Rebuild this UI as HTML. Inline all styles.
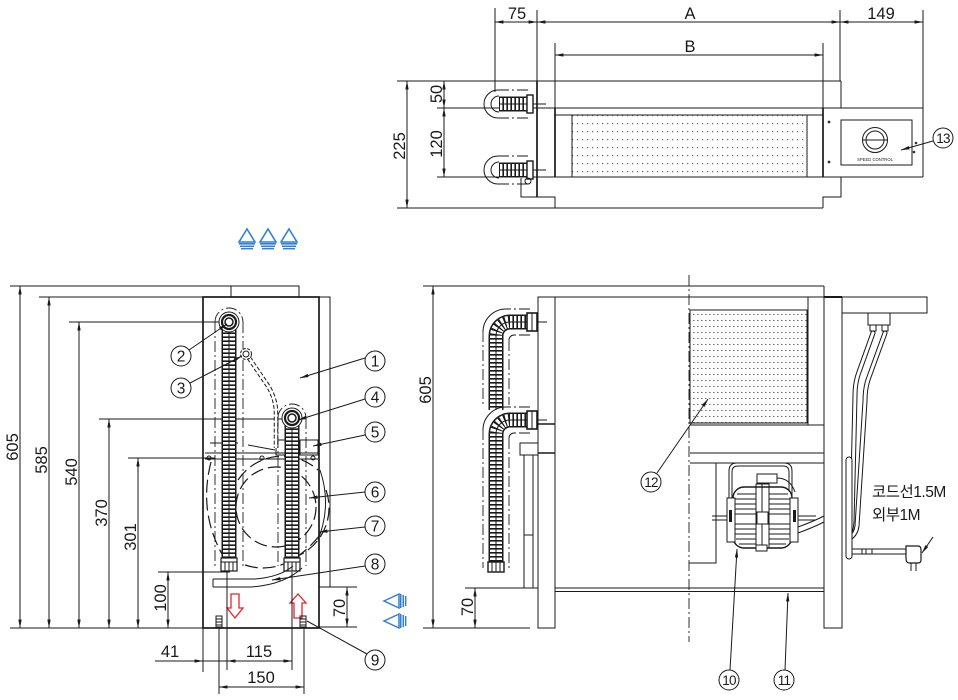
<!DOCTYPE html>
<html><head><meta charset="utf-8"><style>
html,body{margin:0;padding:0;background:#fff;}
svg{display:block;}
.l{fill:none;stroke:#1a1a1a;stroke-width:1;}
.t{fill:none;stroke:#1a1a1a;stroke-width:1.7;}
.dd{fill:none;stroke:#1a1a1a;stroke-width:0.9;stroke-dasharray:11 3 2 3;}
.ds{fill:none;stroke:#1a1a1a;stroke-width:1.2;stroke-dasharray:13 5;}
.r1{fill:none;stroke:#1a1a1a;stroke-width:15;}
.r2{fill:none;stroke:#fff;stroke-width:12;}
.r3{fill:none;stroke:#1a1a1a;stroke-width:12;stroke-dasharray:1.6 2.4;}
.r4{fill:none;stroke:#1a1a1a;stroke-width:1;}
.tw{fill:none;stroke:#1a1a1a;stroke-width:5;stroke-linecap:round;}
.tw2{fill:none;stroke:#fff;stroke-width:3;stroke-linecap:round;}
text{font-family:"Liberation Sans","Noto Sans CJK KR",sans-serif;fill:#1a1a1a;}
.n{font-size:16.5px;}
.c{font-size:15.5px;text-anchor:middle;}
.c2{font-size:13.5px;text-anchor:middle;letter-spacing:-0.8px;}
</style></head><body>
<svg width="958" height="700" viewBox="0 0 958 700" xmlns="http://www.w3.org/2000/svg">
<defs>
<marker id="ar" viewBox="0 0 10 4" refX="10" refY="2" markerWidth="9" markerHeight="3.4" orient="auto-start-reverse" markerUnits="userSpaceOnUse"><path d="M0,0L10,2L0,4z" fill="#1a1a1a"/></marker>
<pattern id="dt" width="5" height="8" patternUnits="userSpaceOnUse"><rect x="2" y="3" width="1.2" height="1.2" fill="#666"/></pattern>
<pattern id="dr" width="4" height="6" patternUnits="userSpaceOnUse"><rect x="1" y="2" width="1.6" height="1" fill="#777"/></pattern>
<path id="tc1" d="M528,104 H499"/>
<path id="tc2" d="M528,170 H499"/>
<path id="lc1" d="M229,562 V322"/>
<path id="lc2" d="M292,562 V418"/>
<path id="rc1" d="M530,322 H510 A14,14 0 0 0 496,336 V410"/>
<path id="rc2" d="M530,420 H510 A14,14 0 0 0 496,434 V564"/>
</defs>

<!-- ================= TOP VIEW ================= -->
<line class="l" x1="495" y1="8" x2="495" y2="92"/>
<line class="l" x1="537" y1="10" x2="537" y2="81"/>
<line class="l" x1="840" y1="10" x2="840" y2="81"/>
<line class="l" x1="923" y1="10" x2="923" y2="108"/>
<line class="l" x1="555" y1="43" x2="555" y2="108"/>
<line class="l" x1="823" y1="43" x2="823" y2="108"/>
<line class="l" x1="495" y1="22" x2="537" y2="22" marker-start="url(#ar)" marker-end="url(#ar)"/>
<line class="l" x1="537" y1="22" x2="840" y2="22" marker-start="url(#ar)" marker-end="url(#ar)"/>
<line class="l" x1="840" y1="22" x2="923" y2="22" marker-start="url(#ar)" marker-end="url(#ar)"/>
<line class="l" x1="555" y1="55" x2="823" y2="55" marker-start="url(#ar)" marker-end="url(#ar)"/>
<text class="n" x="517" y="19" text-anchor="middle">75</text>
<text class="n" x="690" y="19" text-anchor="middle">A</text>
<text class="n" x="881" y="19" text-anchor="middle">149</text>
<text class="n" x="690" y="52" text-anchor="middle">B</text>
<line class="l" x1="397" y1="81" x2="841" y2="81"/>
<line class="l" x1="841" y1="81" x2="841" y2="108"/>
<line class="l" x1="437" y1="108" x2="923" y2="108"/>
<line class="l" x1="555" y1="115" x2="823" y2="115"/>
<line class="t" x1="537" y1="81" x2="537" y2="197"/>
<line class="t" x1="555" y1="108" x2="555" y2="177"/>
<line class="t" x1="823" y1="108" x2="823" y2="177"/>
<line class="l" x1="923" y1="108" x2="923" y2="177"/>
<line class="l" x1="437" y1="177" x2="923" y2="177"/>
<path class="l" d="M537,197 H555 V208 M823,208 V197 H841 V177"/>
<line class="l" x1="397" y1="208" x2="823" y2="208"/>
<rect x="572" y="115" width="235" height="62" fill="url(#dt)" stroke="#1a1a1a" stroke-width="1"/>
<rect class="l" x="841" y="120" width="71" height="45"/>
<circle class="l" cx="875" cy="140" r="12.5" stroke-width="1.5"/>
<circle class="l" cx="875" cy="140" r="9"/>
<line class="l" x1="863" y1="140" x2="887" y2="140" stroke-width="1.6"/>
<text x="875" y="161" font-size="4.2" text-anchor="middle">SPEED CONTROL</text>
<circle cx="829" cy="122" r="1.4" fill="#333"/>
<circle cx="829" cy="162" r="1.4" fill="#333"/>
<circle cx="916" cy="143" r="1.3" fill="#333"/>
<circle cx="914" cy="152" r="1.3" fill="#333"/>
<circle class="l" cx="943" cy="138" r="10"/>
<text class="c2" x="943" y="143">13</text>
<line class="l" x1="933" y1="141" x2="901" y2="150" marker-end="url(#ar)"/>
<line class="l" x1="407" y1="81" x2="407" y2="208" marker-start="url(#ar)" marker-end="url(#ar)"/>
<line class="l" x1="444" y1="81" x2="444" y2="108" marker-start="url(#ar)" marker-end="url(#ar)"/>
<line class="l" x1="444" y1="108" x2="444" y2="177" marker-start="url(#ar)" marker-end="url(#ar)"/>
<text class="n" transform="translate(405,146) rotate(-90)" text-anchor="middle">225</text>
<text class="n" transform="translate(442,94) rotate(-90)" text-anchor="middle">50</text>
<text class="n" transform="translate(442,144) rotate(-90)" text-anchor="middle">120</text>
<path class="dd" d="M528,90 H497 M528,118 H497"/>
<path class="l" d="M498,90 A14,14 0 0 0 498,118"/>
<path class="l" d="M499,96 A8,8 0 0 0 499,112"/>
<use href="#tc1" class="r1"/><use href="#tc1" class="r2"/><use href="#tc1" class="r3"/><use href="#tc1" class="r4"/>
<rect x="527" y="95" width="6" height="18" fill="#fff" stroke="#1a1a1a" stroke-width="1.4"/>
<line class="l" x1="533" y1="104" x2="546" y2="104"/>
<path class="dd" d="M528,156 H497 M528,184 H497"/>
<path class="l" d="M498,156 A14,14 0 0 0 498,184"/>
<path class="l" d="M499,162 A8,8 0 0 0 499,178"/>
<use href="#tc2" class="r1"/><use href="#tc2" class="r2"/><use href="#tc2" class="r3"/><use href="#tc2" class="r4"/>
<rect x="527" y="161" width="6" height="18" fill="#fff" stroke="#1a1a1a" stroke-width="1.4"/>
<line class="l" x1="533" y1="170" x2="546" y2="170"/>
<path class="l" d="M521,178 V197 H537"/>
<circle class="l" cx="528" cy="181" r="3"/>

<g stroke="#2f7fd6" fill="#fff" stroke-width="1.6">
<path d="M247,229 L239,242 L255,242 Z"/><path d="M268,229 L260,242 L276,242 Z"/><path d="M289,229 L281,242 L297,242 Z"/>
</g>
<g fill="#2f7fd6">
<rect x="239" y="243" width="16" height="1.6"/><rect x="240" y="245.5" width="14" height="1.6"/><rect x="241" y="248" width="12" height="1.4"/>
<rect x="260" y="243" width="16" height="1.6"/><rect x="261" y="245.5" width="14" height="1.6"/><rect x="262" y="248" width="12" height="1.4"/>
<rect x="281" y="243" width="16" height="1.6"/><rect x="282" y="245.5" width="14" height="1.6"/><rect x="283" y="248" width="12" height="1.4"/>
</g>

<!-- ================= LEFT SIDE VIEW ================= -->
<line class="l" x1="10" y1="286" x2="231" y2="286"/>
<path class="l" d="M231,297 V286 H299 V297"/>
<line class="l" x1="39" y1="297" x2="203" y2="297"/>
<line class="l" x1="69" y1="322" x2="222" y2="322"/>
<line class="l" x1="99" y1="419" x2="285" y2="419"/>
<line class="l" x1="128" y1="458" x2="215" y2="458"/>
<line class="l" x1="158" y1="572" x2="230" y2="572"/>
<line class="l" x1="10" y1="628" x2="203" y2="628"/>
<line class="l" x1="20" y1="286" x2="20" y2="628" marker-start="url(#ar)" marker-end="url(#ar)"/>
<line class="l" x1="49" y1="297" x2="49" y2="628" marker-start="url(#ar)" marker-end="url(#ar)"/>
<line class="l" x1="79" y1="322" x2="79" y2="628" marker-start="url(#ar)" marker-end="url(#ar)"/>
<line class="l" x1="109" y1="419" x2="109" y2="628" marker-start="url(#ar)" marker-end="url(#ar)"/>
<line class="l" x1="138" y1="458" x2="138" y2="628" marker-start="url(#ar)" marker-end="url(#ar)"/>
<line class="l" x1="168" y1="572" x2="168" y2="628" marker-start="url(#ar)" marker-end="url(#ar)"/>
<text class="n" transform="translate(18,447) rotate(-90)" text-anchor="middle">605</text>
<text class="n" transform="translate(47,460) rotate(-90)" text-anchor="middle">585</text>
<text class="n" transform="translate(77,472) rotate(-90)" text-anchor="middle">540</text>
<text class="n" transform="translate(107,513) rotate(-90)" text-anchor="middle">370</text>
<text class="n" transform="translate(136,537) rotate(-90)" text-anchor="middle">301</text>
<text class="n" transform="translate(166,598) rotate(-90)" text-anchor="middle">100</text>
<rect class="t" x="203" y="297" width="116" height="331" stroke-width="1.4"/>
<path class="l" d="M319,297 H330 V587 H319"/>
<circle class="ds" cx="276" cy="507" r="40"/>
<path class="ds" d="M238,480 A53,53 0 0 1 318,470"/>
<path class="ds" d="M326,490 A53,53 0 0 1 300,555"/>
<path class="ds" d="M211,462 Q196,520 232,570"/>
<path class="ds" d="M245,565 Q285,578 320,535"/>
<path class="l" d="M320,470 Q332,505 318,540"/>
<line class="l" x1="205" y1="453" x2="318" y2="453"/>
<line class="l" x1="205" y1="459" x2="318" y2="459"/>
<line class="l" x1="210" y1="443" x2="238" y2="443"/>
<line class="l" x1="248" y1="445" x2="275" y2="450"/>
<rect class="l" x="276" y="440" width="11" height="15"/>
<rect class="l" x="300" y="440" width="18" height="15"/>
<circle class="l" cx="209" cy="458" r="2"/><circle class="l" cx="262" cy="458" r="2"/><circle class="l" cx="313" cy="458" r="2"/>
<path class="dd" d="M215,322 V566 M243,322 V566"/>
<path class="dd" d="M215,322 A14,14 0 0 1 243,322"/>
<use href="#lc1" class="r1"/><use href="#lc1" class="r2"/><use href="#lc1" class="r3"/><use href="#lc1" class="r4"/>
<circle cx="229" cy="322" r="10" fill="#fff" stroke="#1a1a1a" stroke-width="1"/>
<circle cx="229" cy="322" r="7" fill="none" stroke="#1a1a1a" stroke-width="2.2"/>
<circle cx="229" cy="322" r="4" fill="none" stroke="#1a1a1a" stroke-width="1.5"/>
<rect x="221" y="558" width="16" height="13" fill="#fff" stroke="#1a1a1a" stroke-width="1.2"/>
<path class="l" d="M221,562 H237 M225,562 V571 M229,562 V571 M233,562 V571"/>
<path d="M249,358 L268,386 Q276,399 276,413 L276,448" fill="none" stroke="#1a1a1a" stroke-width="4.5" stroke-dasharray="4 2"/>
<path d="M249,358 L268,386 Q276,399 276,413 L276,448" fill="none" stroke="#fff" stroke-width="2.5"/>
<circle cx="246" cy="354" r="5.5" fill="#fff" stroke="#1a1a1a" stroke-width="1" stroke-dasharray="3 1.5"/>
<circle cx="246" cy="354" r="3" fill="none" stroke="#1a1a1a" stroke-width="1"/>
<path class="dd" d="M278,418 V566 M306,418 V566"/>
<path class="dd" d="M278,418 A14,14 0 0 1 306,418"/>
<use href="#lc2" class="r1"/><use href="#lc2" class="r2"/><use href="#lc2" class="r3"/><use href="#lc2" class="r4"/>
<circle cx="292" cy="418" r="10" fill="#fff" stroke="#1a1a1a" stroke-width="1"/>
<circle cx="292" cy="418" r="7" fill="none" stroke="#1a1a1a" stroke-width="2.2"/>
<circle cx="292" cy="418" r="4" fill="none" stroke="#1a1a1a" stroke-width="1.5"/>
<rect x="284" y="558" width="16" height="13" fill="#fff" stroke="#1a1a1a" stroke-width="1.2"/>
<path class="l" d="M284,562 H300 M288,562 V571 M292,562 V571 M296,562 V571"/>
<path class="l" d="M213,579 H255 Q280,577 293,566 M213,587 H250 Q284,585 302,568 M213,579 V587"/>
<path d="M231,594 H239 V608 H243 L235,618 L227,608 H231 Z" fill="#fff" stroke="#e2262a" stroke-width="1.3"/>
<path d="M294,618 H302 V603 H306 L298,594 L290,603 H294 Z" fill="#fff" stroke="#e2262a" stroke-width="1.3"/>
<rect class="l" x="216" y="616" width="6" height="11"/><path class="l" d="M216,619 H222 M216,622 H222 M216,625 H222"/>
<rect class="l" x="300" y="616" width="6" height="11"/><path class="l" d="M300,619 H306 M300,622 H306 M300,625 H306"/>
<line class="l" x1="203" y1="628" x2="203" y2="672"/>
<line class="l" x1="227" y1="572" x2="227" y2="670"/>
<line class="l" x1="292" y1="572" x2="292" y2="670"/>
<line class="l" x1="219" y1="628" x2="219" y2="694"/>
<line class="l" x1="304" y1="628" x2="304" y2="694"/>
<line class="l" x1="155" y1="661" x2="203" y2="661" marker-end="url(#ar)"/>
<line class="l" x1="203" y1="661" x2="227" y2="661"/>
<line class="l" x1="227" y1="661" x2="292" y2="661" marker-start="url(#ar)" marker-end="url(#ar)"/>
<line class="l" x1="219" y1="687" x2="304" y2="687" marker-start="url(#ar)" marker-end="url(#ar)"/>
<text class="n" x="170" y="657" text-anchor="middle">41</text>
<text class="n" x="259" y="657" text-anchor="middle">115</text>
<text class="n" x="261" y="683" text-anchor="middle">150</text>
<line class="l" x1="330" y1="587" x2="357" y2="587"/>
<line class="l" x1="319" y1="627" x2="357" y2="627"/>
<line class="l" x1="347" y1="587" x2="347" y2="627" marker-start="url(#ar)" marker-end="url(#ar)"/>
<text class="n" transform="translate(345,608) rotate(-90)" text-anchor="middle">70</text>
<g stroke="#2f7fd6" fill="#fff" stroke-width="1.5">
<path d="M384,601 L399,594 L399,608 Z"/><path d="M384,621 L399,614 L399,628 Z"/>
</g>
<g fill="#2f7fd6">
<rect x="400" y="594" width="1.5" height="14"/><rect x="402.5" y="595" width="1.5" height="12"/><rect x="405" y="596" width="1.4" height="10"/>
<rect x="400" y="614" width="1.5" height="14"/><rect x="402.5" y="615" width="1.5" height="12"/><rect x="405" y="616" width="1.4" height="10"/>
</g>
<g>
<circle class="l" cx="181" cy="356" r="10"/><text class="c" x="181" y="361.5">2</text>
<circle class="l" cx="181" cy="388" r="10"/><text class="c" x="181" y="393.5">3</text>
<line class="l" x1="189" y1="350" x2="227" y2="324" marker-end="url(#ar)"/>
<line class="l" x1="190" y1="383" x2="242" y2="356" marker-end="url(#ar)"/>
<circle class="l" cx="375" cy="361" r="10"/><text class="c" x="375" y="366.5">1</text>
<circle class="l" cx="375" cy="397" r="10"/><text class="c" x="375" y="402.5">4</text>
<circle class="l" cx="375" cy="432" r="10"/><text class="c" x="375" y="437.5">5</text>
<circle class="l" cx="375" cy="492" r="10"/><text class="c" x="375" y="497.5">6</text>
<circle class="l" cx="375" cy="526" r="10"/><text class="c" x="375" y="531.5">7</text>
<circle class="l" cx="375" cy="564" r="10"/><text class="c" x="375" y="569.5">8</text>
<circle class="l" cx="375" cy="660" r="10"/><text class="c" x="375" y="665.5">9</text>
<line class="l" x1="365" y1="358" x2="300" y2="378" marker-end="url(#ar)"/>
<line class="l" x1="365" y1="399" x2="298" y2="420" marker-end="url(#ar)"/>
<line class="l" x1="365" y1="435" x2="313" y2="446" marker-end="url(#ar)"/>
<line class="l" x1="365" y1="492" x2="309" y2="498" marker-end="url(#ar)"/>
<line class="l" x1="365" y1="527" x2="319" y2="532" marker-end="url(#ar)"/>
<line class="l" x1="365" y1="566" x2="272" y2="580" marker-end="url(#ar)"/>
<line class="l" x1="367" y1="654" x2="307" y2="621"/>
</g>

<!-- ================= RIGHT SIDE VIEW ================= -->
<line class="l" x1="423" y1="286" x2="555" y2="286"/>
<line class="l" x1="423" y1="628" x2="530" y2="628"/>
<line class="l" x1="433" y1="286" x2="433" y2="628" marker-start="url(#ar)" marker-end="url(#ar)"/>
<text class="n" transform="translate(431,390) rotate(-90)" text-anchor="middle">605</text>
<line class="l" x1="465" y1="588" x2="538" y2="588"/>
<line class="l" x1="475" y1="588" x2="475" y2="628" marker-start="url(#ar)" marker-end="url(#ar)"/>
<text class="n" transform="translate(473,607) rotate(-90)" text-anchor="middle">70</text>
<rect class="l" x="538" y="297" width="17" height="331"/>
<line class="l" x1="555" y1="286" x2="824" y2="286"/>
<line class="l" x1="824" y1="286" x2="824" y2="297"/>
<line class="l" x1="555" y1="297" x2="842" y2="297"/>
<rect class="l" x="824" y="297" width="18" height="331"/>
<line x1="824" y1="297" x2="842" y2="297" stroke="#1a1a1a" stroke-width="2"/>
<rect class="l" x="842" y="297" width="85" height="16"/>
<rect x="690" y="310" width="117" height="113" fill="url(#dr)" stroke="#1a1a1a" stroke-width="1"/>
<line class="l" x1="808" y1="297" x2="808" y2="425"/>
<line class="l" x1="690" y1="425" x2="824" y2="425"/>
<line class="l" x1="690" y1="453" x2="824" y2="453"/>
<line class="l" x1="690" y1="463" x2="824" y2="463"/>
<line class="dd" x1="689" y1="275" x2="689" y2="642" stroke-width="1.1"/>
<path class="l" d="M716,463 V563 H689"/>
<line class="l" x1="555" y1="588" x2="824" y2="588"/>
<line class="l" x1="555" y1="591.5" x2="824" y2="591.5"/>
<line x1="538" y1="424" x2="555" y2="424" stroke="#1a1a1a" stroke-width="1.6"/>
<line x1="538" y1="453" x2="555" y2="453" stroke="#1a1a1a" stroke-width="1.6"/>
<rect class="l" x="520" y="443" width="18" height="12"/>
<rect class="l" x="524" y="455" width="9" height="133"/>
<line class="l" x1="524" y1="535" x2="533" y2="535"/>
<path class="dd" d="M530,309 H506 M483,331 V407 M530,335 H514 M509,340 V405"/>
<path class="l" d="M506,309 A23,23 0 0 0 483,332"/>
<path class="l" d="M514,335 A5,5 0 0 0 509,340"/>
<use href="#rc1" class="r1"/><use href="#rc1" class="r2"/><use href="#rc1" class="r3"/><use href="#rc1" class="r4"/>
<path class="dd" d="M530,407 H506 M483,429 V568 M530,433 H514 M509,438 V568"/>
<path class="l" d="M506,407 A23,23 0 0 0 483,430"/>
<path class="l" d="M514,433 A5,5 0 0 0 509,438"/>
<use href="#rc2" class="r1"/><use href="#rc2" class="r2"/><use href="#rc2" class="r3"/><use href="#rc2" class="r4"/>
<rect x="527" y="313" width="10" height="18" fill="#fff" stroke="#1a1a1a" stroke-width="1.6"/>
<line class="l" x1="532" y1="313" x2="532" y2="331"/>
<line class="l" x1="537" y1="322" x2="547" y2="322"/>
<rect x="527" y="411" width="10" height="18" fill="#fff" stroke="#1a1a1a" stroke-width="1.6"/>
<line class="l" x1="532" y1="411" x2="532" y2="429"/>
<line class="l" x1="537" y1="420" x2="547" y2="420"/>
<rect x="488" y="562" width="16" height="10" fill="#fff" stroke="#1a1a1a" stroke-width="1.4"/>
<path class="l" d="M492,562 V572 M496,562 V572 M500,562 V572"/>
<path class="l" d="M729,540 V471 Q729,463 737,463 H784 Q792,463 792,471 V540" stroke-width="1.3"/>
<path class="l" d="M732,540 V472 Q732,466 738,466 H783 Q789,466 789,472 V540"/>
<line class="l" x1="712" y1="516" x2="816" y2="516"/>
<line class="l" x1="712" y1="520" x2="816" y2="520"/>
<rect x="733" y="487" width="59" height="61" rx="11" fill="#fff" stroke="#1a1a1a" stroke-width="1.4"/>
<path class="l" d="M737,494 H756 M735,499 H756 M734,504 H756 M734,509 H756 M734,514 H756 M734,524 H756 M734,529 H756 M735,534 H756 M736,539 H756 M739,544 H756"/>
<path class="l" d="M769,494 H788 M769,499 H790 M769,504 H791 M769,509 H791 M769,514 H791 M769,524 H791 M769,529 H791 M769,534 H790 M769,539 H789 M769,544 H786"/>
<rect class="l" x="756" y="484" width="13" height="64"/>
<line class="l" x1="762" y1="484" x2="762" y2="548"/>
<rect x="757" y="512" width="11" height="12" fill="#fff" stroke="#1a1a1a"/>
<rect x="727" y="498" width="8" height="44" fill="#fff" stroke="#1a1a1a"/>
<rect x="790" y="498" width="8" height="44" fill="#fff" stroke="#1a1a1a"/>
<rect x="729" y="510" width="3" height="12" fill="#1a1a1a"/>
<rect x="793" y="510" width="3" height="12" fill="#1a1a1a"/>
<rect x="757" y="474" width="20" height="9" fill="#fff" stroke="#1a1a1a"/>
<path class="l" d="M777,478 Q790,478 795,492"/>
<rect x="756" y="545" width="11" height="6" fill="#fff" stroke="#1a1a1a"/>
<path class="l" d="M798,527 Q812,522 824,516 M798,533 Q812,528 824,522"/>
<rect x="868" y="313" width="22" height="12" fill="#fff" stroke="#1a1a1a"/>
<rect x="870" y="325" width="6" height="6" fill="#fff" stroke="#1a1a1a"/>
<rect x="882" y="325" width="6" height="6" fill="#fff" stroke="#1a1a1a"/>
<path class="tw" d="M873,333 L859,372 Q855,382 855,396 L852,522 Q851,532 849,536"/>
<path class="tw" d="M885,333 L869,377 Q865,387 865,401 L857,526 Q856,534 850,538"/>
<path class="tw2" d="M873,333 L859,372 Q855,382 855,396 L852,522 Q851,532 849,536"/>
<path class="tw2" d="M885,333 L869,377 Q865,387 865,401 L857,526 Q856,534 850,538"/>
<rect x="846" y="457" width="6" height="102" rx="3" fill="#fff" stroke="#1a1a1a"/>
<path class="l" d="M852,549 H907 M852,554 H907"/>
<path class="l" d="M862,549 V554 M866,549 V554 M872,549 V554"/>
<path d="M906,546 H918 Q921,546 921,550 V560 Q921,563 918,563 H909 Q906,563 906,558 Z" fill="#fff" stroke="#1a1a1a" stroke-width="1.2"/>
<path class="l" d="M911,563 V571 M916,563 V571" stroke-width="1.5"/>
<line class="l" x1="933" y1="537" x2="922" y2="553" marker-end="url(#ar)"/>
<text x="872" y="497" font-size="15.5" style="letter-spacing:-0.5px">코드선1.5M</text>
<text x="872" y="520" font-size="15.5" style="letter-spacing:-0.5px">외부1M</text>
<circle class="l" cx="651" cy="482" r="10"/><text class="c2" x="651" y="487">12</text>
<line class="l" x1="657" y1="473" x2="708" y2="399" marker-end="url(#ar)"/>
<circle class="l" cx="729" cy="680" r="10"/><text class="c2" x="729" y="685">10</text>
<circle class="l" cx="784" cy="680" r="10"/><text class="c2" x="784" y="685">11</text>
<line class="l" x1="730" y1="670" x2="737" y2="549" marker-end="url(#ar)"/>
<line class="l" x1="785" y1="670" x2="788" y2="593" marker-end="url(#ar)"/>
</svg>
</body></html>
